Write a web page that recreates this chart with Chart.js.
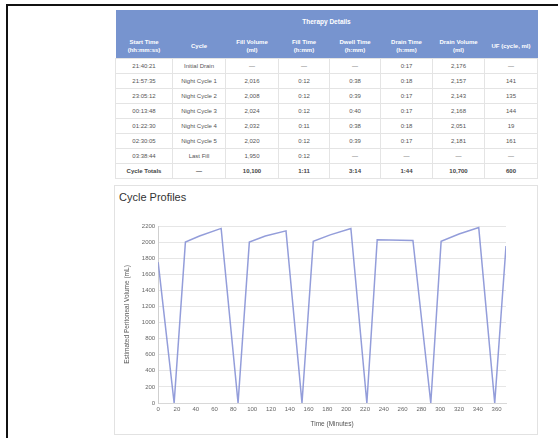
<!DOCTYPE html>
<html>
<head>
<meta charset="utf-8">
<script src="https://cdn.jsdelivr.net/npm/chart.js@4.4.1/dist/chart.umd.min.js"></script>
<style>
  html, body { margin: 0; padding: 0; background: #fff; width: 558px; height: 438px; overflow: hidden; font-family: "Liberation Sans", Arial, sans-serif; }
  #frame { position: absolute; left: 6px; top: 4px; width: 600px; height: 500px; border-top: 2px solid #111; border-left: 2px solid #111; }
  table { position: absolute; left: 115px; top: 10px; width: 422px; border-collapse: collapse; table-layout: fixed; font-size: 6px; }
  th { background: #7794cf; color: #fff; font-weight: bold; text-align: center; padding: 0; line-height: 8px; }
  tr.title th { height: 23px; font-size: 6.5px; }
  tr.head th { height: 25px; }
  td { height: 14px; border: 1px solid #e4e4e4; color: #555; text-align: center; padding: 0; }
  tr.total td { font-weight: bold; color: #444; }
  #card { position: absolute; left: 114px; top: 185px; width: 422px; height: 248px; border: 1px solid #e2e2e2; background: #fff; }
  #cardTitle { position: absolute; left: 119px; top: 191px; font-size: 11px; color: #333; }
  #chartBox { position: absolute; left: 119px; top: 216px; width: 393px; height: 216px; }
</style>
</head>
<body>
<div id="frame"></div>
<table>
  <colgroup>
    <col style="width:57px"><col style="width:53px"><col style="width:53px"><col style="width:51px">
    <col style="width:51px"><col style="width:52px"><col style="width:52px"><col style="width:53px">
  </colgroup>
  <tr class="title"><th colspan="8">Therapy Details</th></tr>
  <tr class="head">
    <th>Start Time<br>(hh:mm:ss)</th><th>Cycle</th><th>Fill Volume<br>(ml)</th><th>Fill Time<br>(h:mm)</th>
    <th>Dwell Time<br>(h:mm)</th><th>Drain Time<br>(h:mm)</th><th>Drain Volume<br>(ml)</th><th>UF (cycle, ml)</th>
  </tr>
  <tbody id="rows"></tbody>
</table>
<div id="card"></div>
<div id="cardTitle">Cycle Profiles</div>
<div id="chartBox"><canvas id="c"></canvas></div>
<script>
// ---- table data ----
const startTimes   = ["21:40:21", "21:57:35", "23:05:12", "00:13:48", "01:22:30", "02:30:05", "03:38:44", "Cycle Totals"];
const cycleNames   = ["Initial Drain", "Night Cycle 1", "Night Cycle 2", "Night Cycle 3", "Night Cycle 4", "Night Cycle 5", "Last Fill", "\u2014"];
const fillVolumes  = ["\u2014", "2,016", "2,008", "2,024", "2,032", "2,020", "1,950", "10,100"];
const fillTimes    = ["\u2014", "0:12", "0:12", "0:12", "0:11", "0:12", "0:12", "1:11"];
const dwellTimes   = ["\u2014", "0:38", "0:39", "0:40", "0:38", "0:39", "\u2014", "3:14"];
const drainTimes   = ["0:17", "0:18", "0:17", "0:17", "0:18", "0:17", "\u2014", "1:44"];
const drainVolumes = ["2,176", "2,157", "2,143", "2,168", "2,051", "2,181", "\u2014", "10,700"];
const ufValues     = ["\u2014", "141", "135", "144", "19", "161", "\u2014", "600"];

// ---- chart data ----
const timeMinutes = [0, 17, 29, 44, 67, 85, 97, 114, 136, 153, 165, 183, 205, 222, 233, 271, 290, 301, 320, 341, 358, 370];
const volumeML    = [1750, 0, 2000, 2075, 2170, 0, 2000, 2075, 2140, 0, 2010, 2090, 2170, 0, 2030, 2020, 0, 2010, 2100, 2180, 0, 1950];
const xTickValues = [0, 20, 40, 60, 80, 100, 120, 140, 160, 180, 200, 220, 240, 260, 280, 300, 320, 340, 360];

const tbody = document.getElementById('rows');
startTimes.forEach((s, i) => {
  const tr = document.createElement('tr');
  if (i === startTimes.length - 1) tr.className = 'total';
  [s, cycleNames[i], fillVolumes[i], fillTimes[i], dwellTimes[i], drainTimes[i], drainVolumes[i], ufValues[i]].forEach(v => {
    const td = document.createElement('td'); td.textContent = v; tr.appendChild(td);
  });
  tbody.appendChild(tr);
});

const points = timeMinutes.map((t, i) => ({ x: t, y: volumeML[i] }));
const tickFont = { family: "Liberation Sans", size: 6 };
new Chart(document.getElementById('c'), {
  type: 'line',
  data: { datasets: [{ data: points, borderColor: 'rgba(128,140,212,0.85)', borderWidth: 1.5, pointRadius: 0, tension: 0, fill: false }] },
  options: {
    responsive: true, maintainAspectRatio: false, animation: false,
    layout: { padding: { top: 10, right: 6, bottom: 0, left: 0 } },
    plugins: { legend: { display: false }, tooltip: { enabled: false } },
    scales: {
      x: {
        type: 'linear', min: 0, max: 370,
        afterBuildTicks: ax => { ax.ticks = xTickValues.map(v => ({ value: v })); },
        grid: { display: false, drawTicks: false },
        border: { display: true, color: '#d8d8d8' },
        ticks: { font: tickFont, color: '#666', padding: 3, maxRotation: 0, autoSkip: false, callback: v => String(v) },
        title: { display: true, text: 'Time (Minutes)', font: { family: "Liberation Sans", size: 6.5 }, color: '#555', padding: { top: 4, bottom: 4 } }
      },
      y: {
        min: 0, max: 2200,
        grid: { color: '#e6e6e6', drawTicks: false },
        border: { display: true, color: '#cfcfcf' },
        ticks: { stepSize: 200, font: tickFont, color: '#666', padding: 3, callback: v => String(v) },
        title: { display: true, text: 'Estimated Peritoneal Volume (mL)', font: { family: "Liberation Sans", size: 6.5 }, color: '#555', padding: { top: 4, bottom: 8 } }
      }
    }
  }
});
</script>
</body>
</html>
